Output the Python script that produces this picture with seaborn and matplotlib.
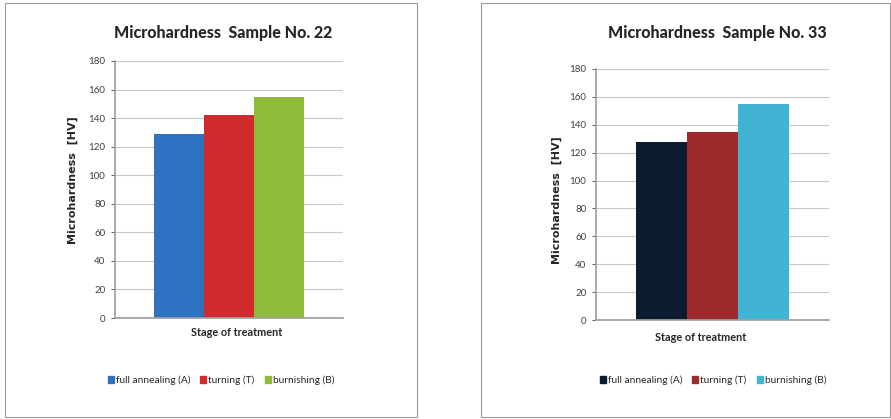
import pandas as pd
import seaborn as sns
import matplotlib.pyplot as plt
from matplotlib.patches import Rectangle

STAGES = ['full annealing (A)', 'turning (T)', 'burnishing (B)']
HV_22 = [129, 142, 155]
HV_33 = [128, 135, 155]
COLORS_22 = ['#2f72c2', '#cf2a2c', '#8fba3c']
COLORS_33 = ['#0b1b30', '#9e2a2b', '#40b4d2']
Y_TICKS = [0, 20, 40, 60, 80, 100, 120, 140, 160, 180]

sns.set_theme(style='white')
plt.rcParams['font.family'] = ['Lato', 'DejaVu Sans']

fig = plt.figure(figsize=(8.91, 4.19), dpi=100)
W, H = 891, 419


def box(x0, y0, x1, y1):
    fig.patches.append(Rectangle((x0 / W, 1 - y1 / H), (x1 - x0) / W, (y1 - y0) / H,
                                 transform=fig.transFigure, fill=False,
                                 edgecolor='#9a9a9a', lw=0.8))


def panel(rect, values, colors, title, title_xy, ylab_xy, xlab_xy, leg_xy):
    ax = fig.add_axes(rect)
    df = pd.DataFrame({'x': ['g'] * 3, 'stage': STAGES, 'hv': values})
    sns.barplot(data=df, x='x', y='hv', hue='stage', hue_order=STAGES,
                palette=colors, width=0.66, ax=ax, legend=False,
                edgecolor='none', saturation=1)
    ax.set_ylim(0, 180)
    ax.set_yticks(Y_TICKS)
    ax.tick_params(axis='y', labelsize=7, colors='#404040', length=3, width=0.6,
                   left=True, pad=4)
    ax.tick_params(axis='x', bottom=False, labelbottom=False)
    ax.yaxis.grid(True, color='#c8c8c8', lw=0.8)
    ax.set_axisbelow(True)
    for s in ['top', 'right']:
        ax.spines[s].set_visible(False)
    ax.spines['left'].set_color('#a0a0a0')
    ax.spines['bottom'].set_color('#a0a0a0')
    ax.set_xlabel('')
    ax.set_ylabel('')
    fig.text(title_xy[0] / W, 1 - title_xy[1] / H, title, ha='center', va='center',
             fontsize=11.5, fontweight='black')
    fig.text(ylab_xy[0] / W, 1 - ylab_xy[1] / H, 'Microhardness  [HV]', rotation=90,
             ha='center', va='center', fontsize=8, fontweight='bold',
             family=['DejaVu Sans'])
    fig.text(xlab_xy[0] / W, 1 - xlab_xy[1] / H, 'Stage of treatment', ha='center',
             va='center', fontsize=7.8, fontweight='bold')
    handles = [Rectangle((0, 0), 1, 1, color=c) for c in colors]
    fig.legend(handles, STAGES, loc='center',
               bbox_to_anchor=(leg_xy[0] / W, 1 - leg_xy[1] / H),
               ncol=3, frameon=False, fontsize=7.3, handlelength=0.6,
               handleheight=0.7, handletextpad=0.2, columnspacing=1.0)
    return ax


box(5, 3, 417, 417)
box(481, 3, 890, 417)

panel([115 / W, 1 - 318 / H, 228 / W, 257 / H], HV_22, COLORS_22,
      'Microhardness  Sample No. 22', (223, 33), (73, 180), (237, 333), (221, 380))
panel([596 / W, 1 - 320 / H, 233 / W, 251 / H], HV_33, COLORS_33,
      'Microhardness  Sample No. 33', (717, 33), (557, 200), (701, 337), (713, 380))

fig.savefig('out.png', dpi=100)
